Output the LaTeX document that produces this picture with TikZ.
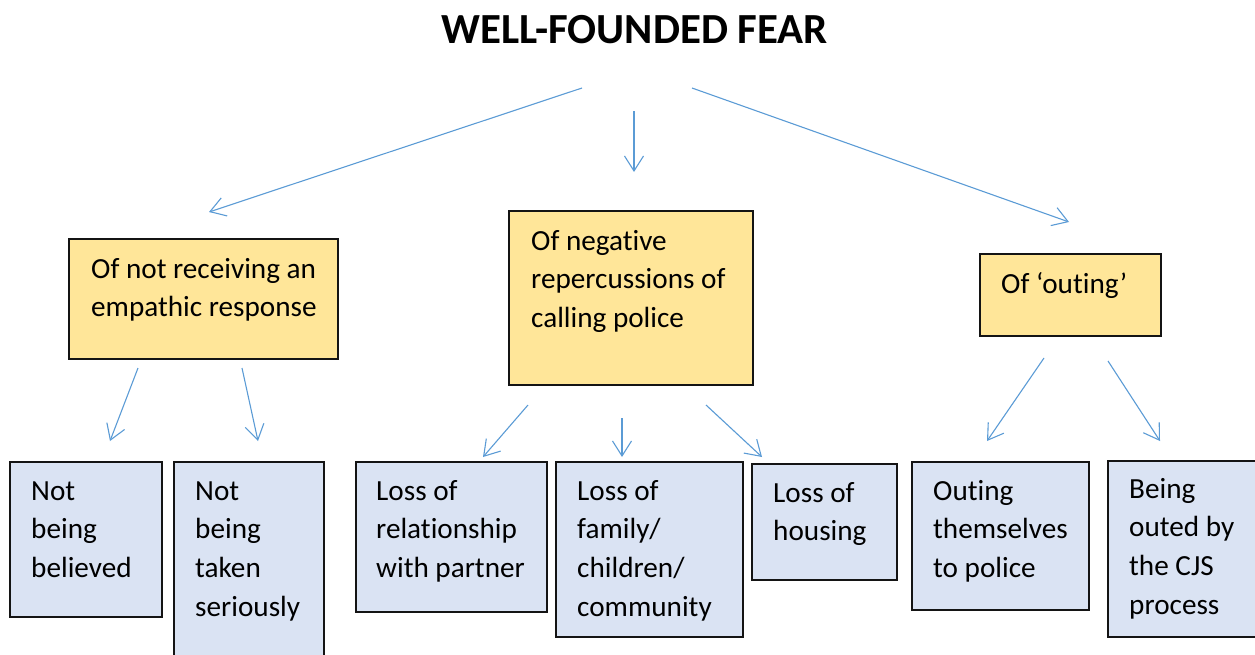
\documentclass[tikz,border=0pt]{standalone}
\usepackage{fontspec}
\setmainfont{Carlito}[Ligatures={NoCommon}]
\usetikzlibrary{arrows.meta}
\definecolor{boxyellow}{RGB}{255,230,153}
\definecolor{boxblue}{RGB}{218,227,243}
\definecolor{arrowblue}{RGB}{91,155,213}
\definecolor{edge}{RGB}{20,20,20}
\newcommand{\boxtext}[2]{\parbox[t]{#1}{\fontsize{29.2}{38.7}\selectfont\raggedright #2}}
\begin{document}
\begin{tikzpicture}[x=1pt,y=-1pt,
  ybox/.style={draw=edge,line width=1.6pt,fill=boxyellow},
  bbox/.style={draw=edge,line width=1.6pt,fill=boxblue},
  lbl/.style={anchor=base west,inner sep=0pt},
  conn/.style={draw=arrowblue,line width=1.1pt,-{Straight Barb[length=15pt,width=19pt,line width=1.1pt]}}]
\useasboundingbox (0,0) rectangle (1255,654);
% title
\node[anchor=base,inner sep=0pt,font=\fontsize{42.9}{50}\selectfont\bfseries] (title) at (635,43) {WELL-FOUNDED FEAR};
% yellow boxes
\draw[ybox] (69,239) rectangle (338,359); \node[inner sep=0pt] (bA) at (203.5,299) {};
\node[lbl] (tA) at (91,278) {\boxtext{260pt}{Of not receiving an\\empathic response}};
\draw[ybox] (509,211) rectangle (753,385); \node[inner sep=0pt] (bB) at (631,298) {};
\node[lbl] (tB) at (531,250) {\boxtext{230pt}{Of negative\\repercussions of\\calling police}};
\draw[ybox] (980,254) rectangle (1161,336); \node[inner sep=0pt] (bC) at (1070.5,295) {};
\node[lbl] (tC) at (1001,293) {\boxtext{160pt}{Of ‘outing’}};
% blue boxes
\draw[bbox] (10,462) rectangle (162,617);
\node[lbl] (t1) at (31,500) {\boxtext{140pt}{Not\\being\\believed}};
\draw[bbox] (174,462) rectangle (324,660);
\node[lbl] (t2) at (195,500) {\boxtext{140pt}{Not\\being\\taken\\seriously}};
\draw[bbox] (356,462) rectangle (547,612);
\node[lbl] (t3) at (376,500) {\boxtext{180pt}{Loss of\\relationship\\with partner}};
\draw[bbox] (556,462) rectangle (743,637);
\node[lbl] (t4) at (577,500) {\boxtext{180pt}{Loss of\\family/\\children/\\community}};
\draw[bbox] (752,464) rectangle (897,580);
\node[lbl] (t5) at (773,502) {\boxtext{130pt}{Loss of\\housing}};
\draw[bbox] (912,462) rectangle (1089,610);
\node[lbl] (t6) at (933,500) {\boxtext{170pt}{Outing\\themselves\\to police}};
\draw[bbox] (1108,461) rectangle (1262,637);
\node[lbl] (t7) at (1129,498) {\boxtext{140pt}{Being\\outed by\\the CJS\\process}};
% connector end points
\coordinate (s1) at (582,88);  \coordinate (e1) at (209,212);
\coordinate (s2) at (634,111); \coordinate (e2) at (634,172);
\coordinate (s3) at (692,88);  \coordinate (e3) at (1069,222);
\coordinate (sA1) at (138,368); \coordinate (eA1) at (110,441);
\coordinate (sA2) at (242,368); \coordinate (eA2) at (258,441);
\coordinate (sB1) at (528,405); \coordinate (eB1) at (483,457);
\coordinate (sB2) at (622,418); \coordinate (eB2) at (622,457);
\coordinate (sB3) at (706,405); \coordinate (eB3) at (762,457);
\coordinate (sC1) at (1044,358); \coordinate (eC1) at (987,441);
\coordinate (sC2) at (1108,361); \coordinate (eC2) at (1160,441);
\foreach \a/\b in {s1/e1,s2/e2,s3/e3,sA1/eA1,sA2/eA2,sB1/eB1,sB2/eB2,sB3/eB3,sC1/eC1,sC2/eC2}
  \draw[conn] (\a) -- (\b);
\end{tikzpicture}
\end{document}
